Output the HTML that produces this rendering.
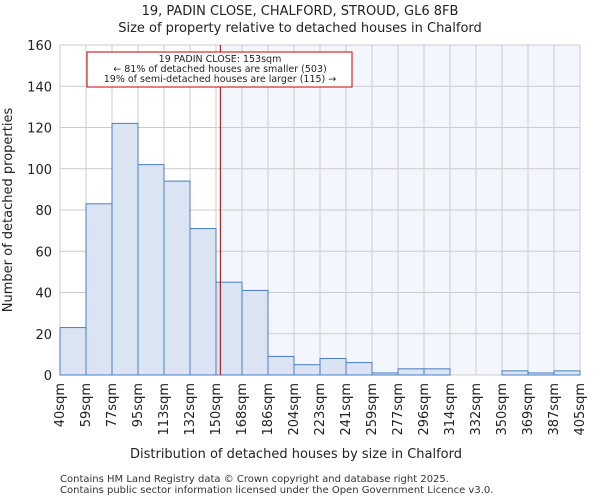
<!DOCTYPE html>
<html><head><meta charset="utf-8"><style>
body{margin:0;background:#fff;font-family:"DejaVu Sans","Liberation Sans",sans-serif}
</style></head><body>
<svg id="c" width="600" height="500" xmlns="http://www.w3.org/2000/svg" font-family="DejaVu Sans, Liberation Sans, sans-serif"></svg>
<script>
const categories=["40sqm","59sqm","77sqm","95sqm","113sqm","132sqm","150sqm","168sqm","186sqm","204sqm","223sqm","241sqm","259sqm","277sqm","296sqm","314sqm","332sqm","350sqm","369sqm","387sqm","405sqm"];
const counts=[23,83,122,102,94,71,45,41,9,5,8,6,1,3,3,0,0,2,1,2];
const yTicks=[0,20,40,60,80,100,120,140,160];
const propertySize=153;
const binEdges=[40,59,77,95,113,132,150,168,186,204,223,241,259,277,296,314,332,350,369,387,405];
const svg=document.getElementById('c');
const NS='http://www.w3.org/2000/svg';
const L=60,R=580,T=45,B=375,yMax=160;
const bw=(R-L)/counts.length;
const x=i=>L+i*bw;
const y=v=>B-(v/yMax)*(B-T);
function sizeX(s){for(let i=0;i<binEdges.length-1;i++){if(s>=binEdges[i]&&s<=binEdges[i+1])return x(i)+bw*(s-binEdges[i])/(binEdges[i+1]-binEdges[i]);}return R;}
function mk(t,a,txt){const e=document.createElementNS(NS,t);for(const k in a)e.setAttribute(k,a[k]);if(txt!==undefined)e.textContent=txt;svg.appendChild(e);return e;}
const lx=sizeX(propertySize);
let e;
e=mk('rect',{x:lx,y:T,width:R-lx,height:B-T,fill:'#f3f6fd'});


for(let i=0;i<=counts.length;i++){e=mk('line',{x1:x(i),x2:x(i),y1:T,y2:B,stroke:'#cccccc','stroke-width':1});

}
yTicks.forEach(t=>{e=mk('line',{x1:L,x2:R,y1:y(t),y2:y(t),stroke:'#cccccc','stroke-width':1});


e=mk('text',{x:L-8,y:y(t)+5,'text-anchor':'end','font-size':13,fill:'#222'},t);

});
counts.forEach((v,i)=>{if(v<=0)return;e=mk('rect',{x:x(i),y:y(v),width:bw,height:B-y(v),fill:'#dae4f2',stroke:'#4a7ec4','stroke-width':1});

});
categories.forEach((c,i)=>{const tx=x(i)+4,ty=B+8;e=mk('text',{x:tx,y:ty,'text-anchor':'end','font-size':13,fill:'#222',transform:`rotate(-90 ${tx} ${ty})`},c);

});
e=mk('line',{x1:lx,x2:lx,y1:T,y2:B,stroke:'#a00000','stroke-width':1});


e=mk('rect',{x:87,y:52,width:265,height:35,fill:'#fff',stroke:'#cc0000','stroke-width':1});


[["19 PADIN CLOSE: 153sqm",62],["← 81% of detached houses are smaller (503)",72],["19% of semi-detached houses are larger (115) →",82]].forEach(a=>{e=mk('text',{x:220,y:a[1],'text-anchor':'middle','font-size':9.5,fill:'#222'},a[0]);

});
e=mk('text',{x:300,y:15,'text-anchor':'middle','font-size':13,fill:'#222'},'19, PADIN CLOSE, CHALFORD, STROUD, GL6 8FB');


e=mk('text',{x:300,y:32,'text-anchor':'middle','font-size':13,fill:'#222'},'Size of property relative to detached houses in Chalford');


e=mk('text',{x:296,y:458,'text-anchor':'middle','font-size':13,fill:'#222'},'Distribution of detached houses by size in Chalford');


e=mk('text',{x:12,y:210,'text-anchor':'middle','font-size':13,fill:'#222',transform:'rotate(-90 12 210)'},'Number of detached properties');


e=mk('text',{x:60,y:482,'font-size':10,fill:'#333'},'Contains HM Land Registry data © Crown copyright and database right 2025.');


e=mk('text',{x:60,y:493,'font-size':10,fill:'#333'},'Contains public sector information licensed under the Open Government Licence v3.0.');


</script>
</body></html>
